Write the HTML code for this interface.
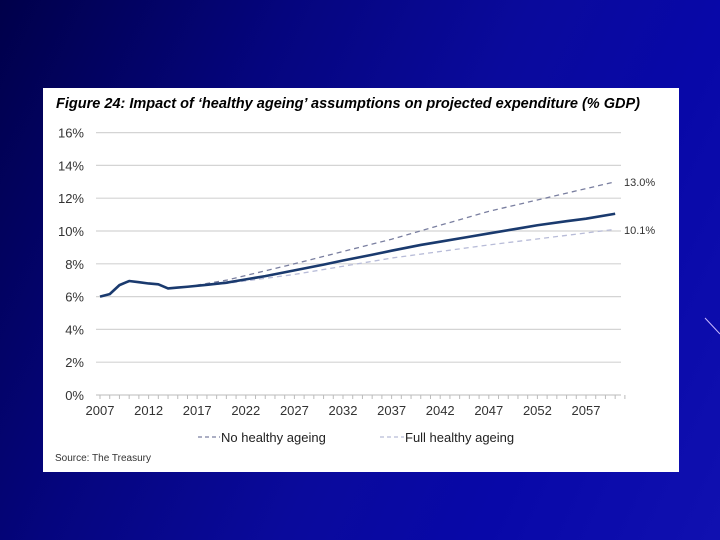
<!DOCTYPE html>
<html><head><meta charset="utf-8"><style>
html,body{margin:0;padding:0;width:720px;height:540px;overflow:hidden}
body{background:linear-gradient(115deg,#00004a 0%,#05057e 30%,#0a0a9c 55%,#0808a8 75%,#1010b0 100%);position:relative;font-family:"Liberation Sans",Arial,sans-serif}
#box{position:absolute;left:43px;top:88px;width:636px;height:384px;background:#fff}
</style></head><body>
<div id="box"></div>
<svg width="720" height="540" style="position:absolute;left:0;top:0">
<line x1="705" y1="318" x2="720" y2="334" stroke="#c8b8ff" stroke-width="1"/>
<text x="56" y="108" font-size="14.5" font-weight="bold" font-style="italic" fill="#000" textLength="584" lengthAdjust="spacingAndGlyphs">Figure 24: Impact of ‘healthy ageing’ assumptions on projected expenditure (% GDP)</text>
<g id="grid"></g><g id="axes"></g><g id="series"></g>
<text x="624" y="186" font-size="11" fill="#333">13.0%</text>
<text x="624" y="234" font-size="11" fill="#333">10.1%</text>
<line x1="198" y1="437" x2="220" y2="437" stroke="#7a7fa0" stroke-width="1.3" stroke-dasharray="4,3"/>
<text x="221" y="442" font-size="13" fill="#222">No healthy ageing</text>
<line x1="380" y1="437" x2="404" y2="437" stroke="#b8bcd8" stroke-width="1.3" stroke-dasharray="4,3"/>
<text x="405" y="442" font-size="13" fill="#222">Full healthy ageing</text>
<text x="55" y="461" font-size="10" fill="#333">Source: The Treasury</text>
</svg>
<script>
const yTicks=[0,2,4,6,8,10,12,14,16];
const xTickYears=[2007,2012,2017,2022,2027,2032,2037,2042,2047,2052,2057];
const baseYears=[2007,2008,2009,2010,2011,2012,2013,2014,2015,2016,2018,2020,2022,2024,2027,2030,2032,2035,2037,2040,2042,2045,2047,2050,2052,2055,2057,2060];
const baseVals=[6.0,6.15,6.7,6.95,6.88,6.8,6.75,6.5,6.55,6.6,6.72,6.85,7.05,7.25,7.6,7.95,8.2,8.55,8.8,9.15,9.35,9.65,9.85,10.15,10.35,10.6,10.75,11.05];
const noYears=[2016,2020,2027,2037,2047,2060];
const noVals=[6.6,7.0,8.0,9.5,11.2,13.0];
const fullYears=[2016,2020,2027,2037,2047,2060];
const fullVals=[6.6,6.8,7.35,8.35,9.15,10.1];
const NS="http://www.w3.org/2000/svg";
const X=y=>100+(y-2007)*9.72;
const Y=v=>395-v*16.4;
function mk(p,t,a){const e=document.createElementNS(NS,t);for(const k in a)e.setAttribute(k,a[k]);document.getElementById(p).appendChild(e);return e;}
yTicks.forEach(v=>{
 if(v>0){const l=mk('grid','line',{x1:96,x2:621,y1:Y(v),y2:Y(v),stroke:'#d4d4d4','stroke-width':1.2});
 
 }
 const t=mk('axes','text',{x:84,y:Y(v)+5,'font-size':13,fill:'#333','text-anchor':'end'});t.textContent=v+'%';
 
 
});
const ax=mk('axes','line',{x1:96,x2:621,y1:395,y2:395,stroke:'#bbb','stroke-width':1});


for(let yr=2007;yr<=2061;yr++){const tk=mk('axes','line',{x1:X(yr),x2:X(yr),y1:395,y2:399,stroke:'#bbb'});
 
 }
xTickYears.forEach(yr=>{const t=mk('axes','text',{x:X(yr),y:415,'font-size':13,fill:'#333','text-anchor':'middle'});t.textContent=yr;
 
 });
function pts(xs,vs){return xs.map((x,i)=>X(x)+','+Y(vs[i])).join(' ');}
const f=mk('series','polyline',{points:pts(fullYears,fullVals),fill:'none',stroke:'#b8bcd8','stroke-width':1.3,'stroke-dasharray':'5,4'});


const n=mk('series','polyline',{points:pts(noYears,noVals),fill:'none',stroke:'#7a7fa0','stroke-width':1.3,'stroke-dasharray':'5,4'});


const b=mk('series','polyline',{points:pts(baseYears,baseVals),fill:'none',stroke:'#1a3a6e','stroke-width':2.6,'stroke-linejoin':'round'});


</script>
</body></html>
